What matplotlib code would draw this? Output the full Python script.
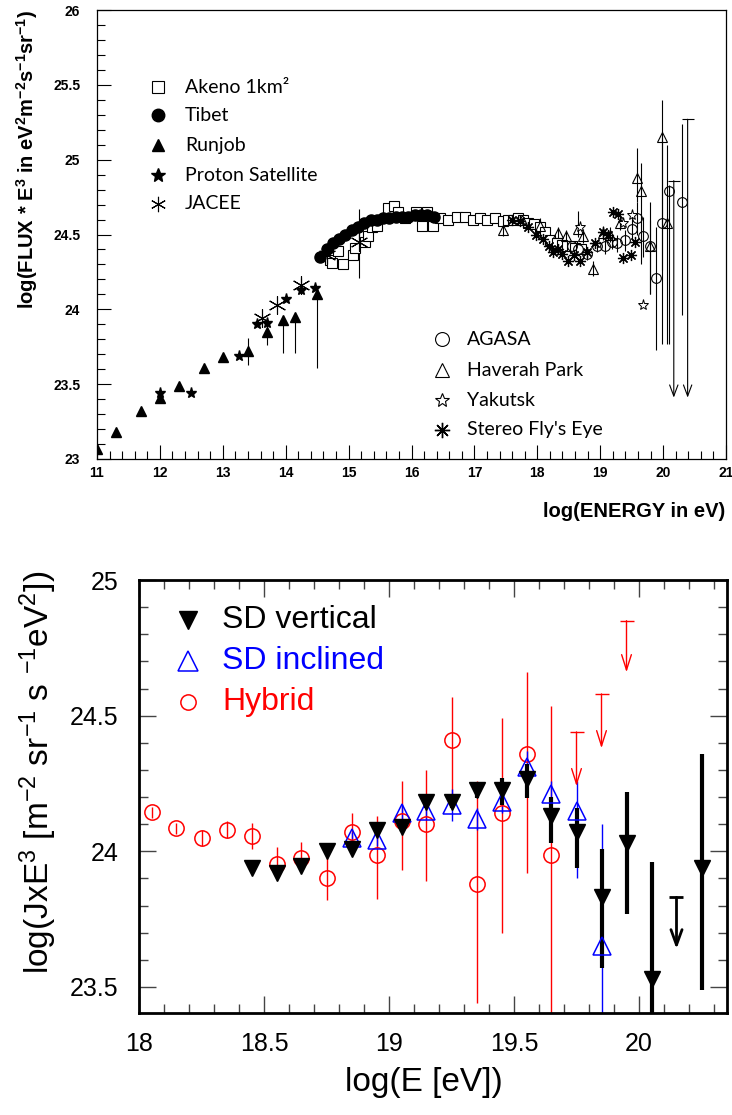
import matplotlib
matplotlib.use("Agg")
import matplotlib.pyplot as plt
from matplotlib.ticker import MultipleLocator

plt.rcParams["mathtext.default"] = "regular"

# ---------------- top panel: world data compilation ----------------
rj_x = [11.0, 11.3, 11.7, 12.0, 12.3, 12.7, 13.0, 13.4, 13.7, 13.95, 14.15, 14.5]
rj_y = [23.07, 23.18, 23.32, 23.41, 23.49, 23.61, 23.68, 23.72, 23.85, 23.93, 23.95, 24.10]
rj_lo = [0, 0, 0, 0, 0, 0, 0, 0.09, 0.09, 0.22, 0.24, 0.49]
rj_hi = [0, 0, 0, 0, 0, 0, 0, 0.09, 0.05, 0.02, 0.02, 0.03]

ps_x = [12.0, 12.5, 13.25, 13.55, 13.7, 14.0, 14.25, 14.47]
ps_y = [23.44, 23.44, 23.69, 23.90, 23.91, 24.07, 24.13, 24.14]

jc_x = [13.63, 13.86, 14.25, 14.65, 15.17]
jc_y = [23.94, 24.03, 24.16, 24.36, 24.45]
jc_lo = [0.02, 0.02, 0.05, 0.06, 0.24]
jc_hi = [0.02, 0.02, 0.05, 0.06, 0.22]

tb_x = [14.55, 14.65, 14.75, 14.85, 14.95, 15.05, 15.15, 15.25, 15.35, 15.45,
        15.55, 15.65, 15.75, 15.85, 15.95, 16.05, 16.15, 16.25, 16.35]
tb_y = [24.35, 24.40, 24.44, 24.47, 24.50, 24.53, 24.55, 24.58, 24.60, 24.60,
        24.61, 24.61, 24.62, 24.62, 24.62, 24.63, 24.63, 24.63, 24.62]

ak_x = [14.70, 14.73, 14.83, 14.91, 15.07, 15.10, 15.26, 15.31, 15.37, 15.45,
        15.63, 15.72, 15.78, 15.90, 16.07, 16.17, 16.25, 16.34, 16.45, 16.58,
        16.72, 16.85, 16.98, 17.09, 17.20, 17.33, 17.45, 17.53, 17.62, 17.70,
        17.77, 17.85, 17.95, 18.05, 18.12, 18.20, 18.31, 18.40, 18.47, 18.55,
        18.60, 18.70]
ak_y = [24.33, 24.31, 24.39, 24.30, 24.36, 24.41, 24.45, 24.49, 24.55, 24.56,
        24.68, 24.69, 24.65, 24.61, 24.65, 24.56, 24.65, 24.56, 24.61, 24.60,
        24.62, 24.62, 24.60, 24.61, 24.60, 24.61, 24.59, 24.60, 24.60, 24.61,
        24.60, 24.58, 24.57, 24.55, 24.52, 24.46, 24.44, 24.43, 24.42, 24.42,
        24.41, 24.40]

hp_x = [17.45, 17.75, 18.04, 18.33, 18.45, 18.65, 18.73, 18.89, 19.05, 19.15,
        19.31, 19.58, 19.65, 19.79, 19.98, 20.06]
hp_y = [24.53, 24.60, 24.56, 24.51, 24.49, 24.54, 24.49, 24.27, 24.51, 24.50,
        24.58, 24.88, 24.79, 24.42, 25.15, 24.58]
hp_lo = [0.04, 0.03, 0.05, 0.04, 0.04, 0.06, 0.05, 0.05, 0.05, 0.05,
         0.05, 0.16, 0.49, 0.32, 0.89, 0.81]
hp_hi = [0.04, 0.03, 0.05, 0.04, 0.04, 0.12, 0.05, 0.05, 0.05, 0.05,
         0.05, 0.20, 0.19, 0.30, 0.25, 0.52]

ag_x = [18.55, 18.65, 18.79, 18.95, 19.08, 19.18, 19.27, 19.39, 19.50, 19.58,
        19.68, 19.79, 19.89, 19.98, 20.09, 20.30]
ag_y = [24.42, 24.40, 24.37, 24.42, 24.42, 24.45, 24.44, 24.46, 24.54, 24.61,
        24.49, 24.42, 24.21, 24.58, 24.79, 24.72]
ag_lo = [0.03, 0.03, 0.04, 0.04, 0.05, 0.05, 0.06, 0.07, 0.08, 0.11,
         0.14, 0.32, 0.48, 0.81, 1.02, 0.76]
ag_hi = [0.03, 0.03, 0.04, 0.04, 0.05, 0.05, 0.06, 0.07, 0.08, 0.11,
         0.13, 0.18, 0.34, 0.57, 0.04, 0.52]
ag_ul_x = [20.17, 20.39]
ag_ul_cap = [24.86, 25.27]
ag_ul_tip = [23.41, 23.41]

yk_x = [18.68, 19.36, 19.50, 19.68]
yk_y = [24.55, 24.58, 24.63, 24.03]

fe_x = [17.60, 17.72, 17.85, 17.98, 18.09, 18.18, 18.25, 18.33, 18.39, 18.49,
        18.58, 18.68, 18.79, 18.92, 19.05, 19.13, 19.21, 19.28, 19.36, 19.49,
        19.55]
fe_y = [24.60, 24.59, 24.55, 24.50, 24.47, 24.42, 24.38, 24.40, 24.37, 24.32,
        24.36, 24.32, 24.38, 24.44, 24.52, 24.50, 24.65, 24.64, 24.34, 24.36,
        24.45]

# ---------------- bottom panel: Auger spectrum ----------------
sdv_x = [18.45, 18.55, 18.65, 18.75, 18.85, 18.95, 19.05, 19.15, 19.25, 19.35,
         19.45, 19.55, 19.65, 19.75, 19.85, 19.95, 20.05, 20.25]
sdv_y = [23.94, 23.92, 23.945, 24.00, 24.01, 24.08, 24.09, 24.18, 24.18, 24.225,
         24.225, 24.265, 24.13, 24.07, 23.83, 24.03, 23.53, 23.94]
sdv_lo = [0.01, 0.01, 0.01, 0.01, 0.01, 0.02, 0.02, 0.02, 0.02, 0.03,
          0.055, 0.07, 0.10, 0.13, 0.26, 0.26, 0.15, 0.45]
sdv_hi = [0.01, 0.01, 0.01, 0.01, 0.01, 0.02, 0.02, 0.02, 0.02, 0.03,
          0.045, 0.055, 0.07, 0.09, 0.18, 0.19, 0.43, 0.42]
sdv_ul_x = [20.15]
sdv_ul_cap = [23.83]
sdv_ul_tip = [23.64]

sdi_x = [18.85, 18.95, 19.05, 19.15, 19.25, 19.35, 19.45, 19.55, 19.65, 19.75, 19.85]
sdi_y = [24.05, 24.04, 24.14, 24.15, 24.17, 24.12, 24.18, 24.31, 24.21, 24.15, 23.65]
sdi_lo = [0.02, 0.02, 0.03, 0.03, 0.06, 0.04, 0.04, 0.06, 0.05, 0.25, 0.30]
sdi_hi = [0.02, 0.02, 0.03, 0.03, 0.06, 0.04, 0.04, 0.06, 0.05, 0.11, 0.45]

hy_x = [18.05, 18.15, 18.25, 18.35, 18.45, 18.55, 18.65, 18.75, 18.85, 18.95,
        19.05, 19.15, 19.25, 19.35, 19.45, 19.55, 19.65]
hy_y = [24.144, 24.085, 24.05, 24.08, 24.055, 23.955, 23.975, 23.90, 24.07, 23.985,
        24.11, 24.10, 24.41, 23.88, 24.14, 24.36, 23.985]
hy_lo = [0.02, 0.02, 0.03, 0.03, 0.045, 0.03, 0.05, 0.08, 0.04, 0.16,
         0.18, 0.21, 0.21, 0.44, 0.44, 0.44, 0.59]
hy_hi = [0.02, 0.02, 0.03, 0.03, 0.05, 0.06, 0.06, 0.10, 0.07, 0.145,
         0.15, 0.20, 0.16, 0.38, 0.35, 0.30, 0.55]
hy_ul_x = [19.75, 19.85, 19.95]
hy_ul_cap = [24.44, 24.58, 24.85]
hy_ul_tip = [24.24, 24.38, 24.66]


W, H = 732, 1115
fig = plt.figure(figsize=(W / 100, H / 100), dpi=100)

# ======== top ========
ax1 = fig.add_axes([97 / W, 1 - 459 / H, 629 / W, 449 / H])
ek = dict(fmt="none", ecolor="black", elinewidth=0.8, capsize=0)
ax1.errorbar(rj_x, rj_y, yerr=[rj_lo, rj_hi], **ek)
ax1.errorbar(jc_x, jc_y, yerr=[jc_lo, jc_hi], **ek)
ax1.errorbar(hp_x, hp_y, yerr=[hp_lo, hp_hi], **ek)
ax1.errorbar(ag_x, ag_y, yerr=[ag_lo, ag_hi], **ek)

ax1.plot(ak_x, ak_y, ls="none", marker="s", ms=7, mfc="white", mec="black", mew=0.8)
ax1.plot(tb_x, tb_y, ls="none", marker="o", ms=8, color="black")
ax1.plot(rj_x, rj_y, ls="none", marker="^", ms=7, color="black")
ax1.plot(ps_x, ps_y, ls="none", marker="*", ms=8, color="black")
ax1.plot(jc_x, jc_y, ls="none", marker=(6, 2, 0), ms=13, color="black", mew=0.8)
ax1.plot(fe_x, fe_y, ls="none", marker=(8, 2, 0), ms=8, color="black", mew=0.9)
ax1.plot(hp_x, hp_y, ls="none", marker="^", ms=7, mfc="none", mec="black", mew=0.8)
ax1.plot(ag_x, ag_y, ls="none", marker="o", ms=7, mfc="none", mec="black", mew=0.8)
ax1.plot(yk_x, yk_y, ls="none", marker="*", ms=8, mfc="white", mec="black", mew=0.7)

for x, cap, tip in zip(ag_ul_x, ag_ul_cap, ag_ul_tip):
    ax1.annotate("", xy=(x, tip), xytext=(x, cap),
                 arrowprops=dict(arrowstyle="->,head_length=0.8,head_width=0.3",
                                 color="black", lw=0.8, shrinkA=0, shrinkB=0))
    ax1.plot([x], [cap], marker="_", ms=8, mew=0.8, color="black")

ax1.set_xlim(11, 21)
ax1.set_ylim(23, 26)
ax1.xaxis.set_major_locator(MultipleLocator(1))
ax1.xaxis.set_minor_locator(MultipleLocator(0.2))
ax1.yaxis.set_major_locator(MultipleLocator(0.5))
ax1.yaxis.set_minor_locator(MultipleLocator(0.1))
ax1.tick_params(which="both", direction="in", top=False, right=False, width=0.8)
ax1.tick_params(which="major", length=10)
ax1.tick_params(which="minor", length=6)
ax1.tick_params(axis="y", which="major", pad=12)
ax1.tick_params(axis="x", which="major", pad=5)
for lab in ax1.get_xticklabels() + ax1.get_yticklabels():
    lab.set_fontfamily("Liberation Sans")
    lab.set_fontweight("bold")
    lab.set_fontsize(10)
ax1.yaxis.set_major_formatter(plt.FuncFormatter(lambda v, p: f"{v:g}"))
for s in ax1.spines.values():
    s.set_linewidth(0.9)

fig.text(27 / W, 1 - 160 / H,
         "log(FLUX * E$^{3}$ in eV$^{2}$m$^{-2}$s$^{-1}$sr$^{-1}$)",
         rotation=90, ha="center", va="center", fontsize=14.5,
         fontweight="bold", family="Liberation Sans")
fig.text(725 / W, 1 - 511 / H, "log(ENERGY in eV)", ha="right", va="center",
         fontsize=14.5, fontweight="bold", family="Liberation Sans")

leg_font = dict(fontsize=14, family=["Lato", "DejaVu Sans"], va="center")
leg1 = [("Akeno 1km²", dict(marker="s", mfc="white", mec="black", mew=0.8, ms=9)),
        ("Tibet", dict(marker="o", color="black", ms=9)),
        ("Runjob", dict(marker="^", color="black", ms=9)),
        ("Proton Satellite", dict(marker="*", color="black", ms=10)),
        ("JACEE", dict(marker=(6, 2, 0), color="black", ms=11, mew=0.8))]
rows1 = [0.8285, 0.766, 0.699, 0.6325, 0.568]
for (lab, st), yy in zip(leg1, rows1):
    ax1.plot([0.097], [yy], transform=ax1.transAxes, ls="none", clip_on=False, **st)
    ax1.text(0.140, yy, lab, transform=ax1.transAxes, **leg_font)

leg2 = [("AGASA", dict(marker="o", mfc="white", mec="black", mew=0.8, ms=10)),
        ("Haverah Park", dict(marker="^", mfc="white", mec="black", mew=0.8, ms=10)),
        ("Yakutsk", dict(marker="*", mfc="white", mec="black", mew=0.8, ms=10)),
        ("Stereo Fly's Eye", dict(marker=(8, 2, 0), color="black", ms=11, mew=1.0))]
rows2 = [0.267, 0.198, 0.131, 0.0646]
for (lab, st), yy in zip(leg2, rows2):
    ax1.plot([0.5485], [yy], transform=ax1.transAxes, ls="none", clip_on=False, **st)
    ax1.text(0.588, yy, lab, transform=ax1.transAxes, **leg_font)

# ======== bottom ========
ax2 = fig.add_axes([139 / W, 1 - 1013 / H, 588 / W, 433 / H])
ax2.errorbar(hy_x, hy_y, yerr=[hy_lo, hy_hi], fmt="none", ecolor="red",
             elinewidth=1.0, capsize=0)
ax2.errorbar(sdi_x, sdi_y, yerr=[sdi_lo, sdi_hi], fmt="none", ecolor="blue",
             elinewidth=1.0, capsize=0)
ax2.errorbar(sdv_x, sdv_y, yerr=[sdv_lo, sdv_hi], fmt="none", ecolor="black",
             elinewidth=3.0, capsize=0)
ax2.plot(hy_x, hy_y, ls="none", marker="o", ms=11, mfc="none", mec="red", mew=1.1)
ax2.plot(sdi_x, sdi_y, ls="none", marker="^", ms=13, mfc="none", mec="blue", mew=1.1)
ax2.plot(sdv_x, sdv_y, ls="none", marker="v", ms=12, color="black")

for x, cap, tip in zip(hy_ul_x, hy_ul_cap, hy_ul_tip):
    ax2.annotate("", xy=(x, tip), xytext=(x, cap),
                 arrowprops=dict(arrowstyle="->,head_length=1.1,head_width=0.35",
                                 color="red", lw=1.0, shrinkA=0, shrinkB=0))
    ax2.plot([x], [cap], marker="_", ms=10, mew=1.0, color="red")
for x, cap, tip in zip(sdv_ul_x, sdv_ul_cap, sdv_ul_tip):
    ax2.annotate("", xy=(x, tip), xytext=(x, cap),
                 arrowprops=dict(arrowstyle="->,head_length=1.1,head_width=0.4",
                                 color="black", lw=2.0, shrinkA=0, shrinkB=0))
    ax2.plot([x], [cap], marker="_", ms=10, mew=2.0, color="black")

ax2.set_xlim(18, 20.352)
ax2.set_ylim(23.404, 25)
ax2.xaxis.set_major_locator(MultipleLocator(0.5))
ax2.xaxis.set_minor_locator(MultipleLocator(0.1))
ax2.yaxis.set_major_locator(MultipleLocator(0.5))
ax2.yaxis.set_minor_locator(MultipleLocator(0.1))
ax2.tick_params(which="both", direction="in", top=True, right=True, width=1.0,
                color="#444444")
ax2.tick_params(which="major", length=12)
ax2.tick_params(which="minor", length=6.5)
ax2.tick_params(axis="y", which="major", pad=15)
ax2.tick_params(axis="x", which="major", pad=14)
ax2.xaxis.set_major_formatter(plt.FuncFormatter(lambda v, p: f"{v:g}"))
ax2.yaxis.set_major_formatter(plt.FuncFormatter(lambda v, p: f"{v:g}"))
for lab in ax2.get_xticklabels() + ax2.get_yticklabels():
    lab.set_fontfamily("Liberation Sans")
    lab.set_fontsize(18)
for s in ax2.spines.values():
    s.set_linewidth(2.0)

fig.text(38 / W, 1 - 772 / H,
         "log(JxE$^{3}$ [m$^{-2}$ sr$^{-1}$ s $^{-1}$eV$^{2}$])",
         rotation=90, ha="center", va="center", fontsize=24, family="Liberation Sans")
fig.text(424 / W, 1 - 1083 / H, "log(E [eV])", ha="center", va="center",
         fontsize=24, family="Liberation Sans")

leg3 = [("SD vertical", "black", dict(marker="v", color="black", ms=13)),
        ("SD inclined", "blue", dict(marker="^", mfc="none", mec="blue", mew=1.1, ms=14)),
        ("Hybrid", "red", dict(marker="o", mfc="none", mec="red", mew=1.1, ms=11))]
rows3 = [0.9076, 0.813, 0.718]
for (lab, col, st), yy in zip(leg3, rows3):
    ax2.plot([0.0833], [yy], transform=ax2.transAxes, ls="none", clip_on=False, **st)
    ax2.text(0.141, yy, lab, transform=ax2.transAxes, color=col, fontsize=23,
             family="Liberation Sans", va="center")

fig.savefig("out.png", dpi=100)
